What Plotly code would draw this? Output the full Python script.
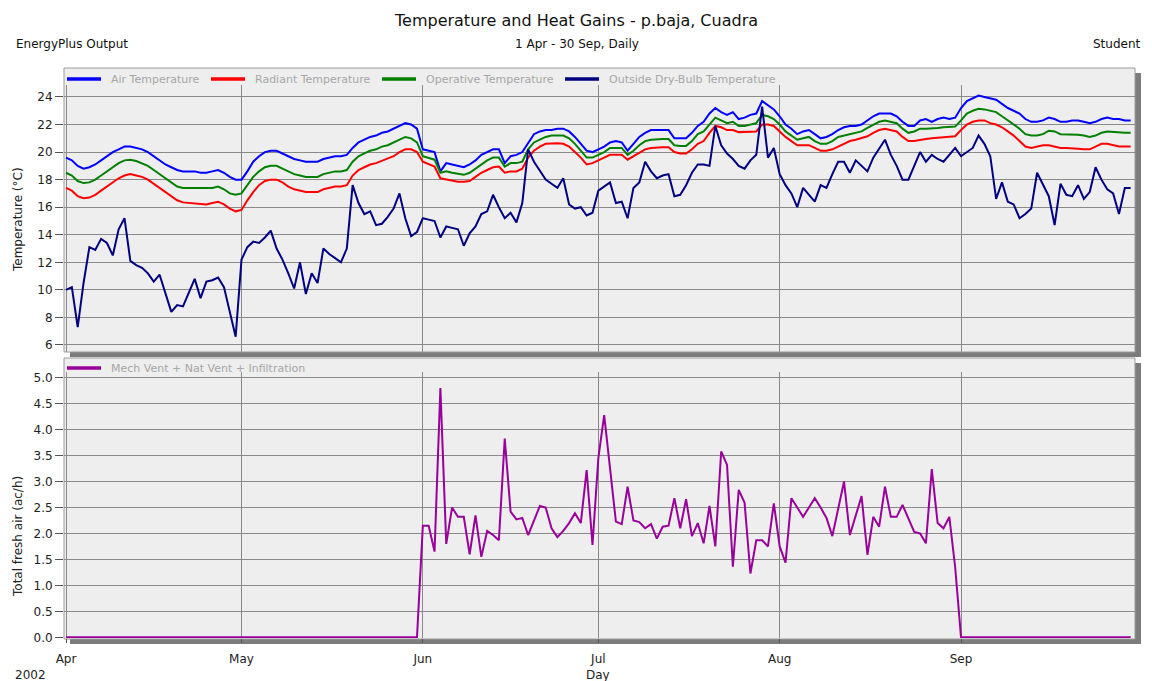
import pandas as pd
import plotly.graph_objects as go

# ---- data: daily values, 1 Apr - 30 Sep 2002 ----
start_date = "2002-04-01"
end_date = "2002-09-30"

air_temperature = [
    19.6, 19.4, 19.0, 18.8, 18.9, 19.1, 19.4, 19.7, 20.0, 20.2,
    20.4, 20.4, 20.3, 20.2, 20.0, 19.7, 19.4, 19.1, 18.9, 18.7,
    18.6, 18.6, 18.6, 18.5, 18.5, 18.6, 18.7, 18.5, 18.2, 18.0,
    18.0, 18.6, 19.3, 19.7, 20.0, 20.1, 20.1, 19.9, 19.7, 19.5,
    19.4, 19.3, 19.3, 19.3, 19.5, 19.6, 19.7, 19.7, 19.8, 20.3,
    20.7, 20.9, 21.1, 21.2, 21.4, 21.5, 21.7, 21.9, 22.1, 22.0,
    21.7, 20.2, 20.1, 20.0, 18.6, 19.2, 19.1, 19.0, 18.9, 19.1,
    19.4, 19.8, 20.0, 20.2, 20.2, 19.2, 19.7, 19.8, 20.0, 20.7,
    21.3, 21.5, 21.6, 21.6, 21.7, 21.7, 21.5, 21.1, 20.6, 20.1,
    20.0, 20.2, 20.4, 20.7, 20.8, 20.7, 20.1, 20.6, 21.1, 21.4,
    21.6, 21.6, 21.6, 21.6, 21.0, 21.0, 21.0, 21.4, 21.9, 22.2,
    22.8, 23.2, 22.9, 22.7, 22.9, 22.4, 22.5, 22.7, 22.8, 23.7,
    23.4, 23.1, 22.6, 22.0, 21.7, 21.3, 21.5, 21.6, 21.3, 21.0,
    21.1, 21.3, 21.6, 21.8, 21.9, 21.9, 22.0, 22.3, 22.6, 22.8,
    22.8, 22.8, 22.6, 22.2, 21.9, 21.9, 22.3, 22.4, 22.2, 22.4,
    22.5, 22.4, 22.5, 23.2, 23.7, 23.9, 24.1, 24.0, 23.9, 23.8,
    23.5, 23.2, 23.0, 22.8, 22.4, 22.2, 22.2, 22.3, 22.5, 22.4,
    22.2, 22.2, 22.3, 22.3, 22.2, 22.1, 22.2, 22.4, 22.5, 22.4,
    22.4, 22.3, 22.3,
]

radiant_temperature = [
    17.4, 17.2, 16.8, 16.65, 16.7, 16.9, 17.2, 17.5, 17.8, 18.1,
    18.3, 18.4, 18.3, 18.2, 18.0, 17.7, 17.4, 17.1, 16.8, 16.5,
    16.35, 16.3, 16.3, 16.25, 16.2, 16.3, 16.4, 16.2, 15.9, 15.7,
    15.8, 16.5, 17.1, 17.6, 17.9, 18.0, 18.0, 17.8, 17.5, 17.3,
    17.2, 17.1, 17.1, 17.1, 17.3, 17.4, 17.5, 17.5, 17.6, 18.3,
    18.7, 18.9, 19.1, 19.2, 19.35, 19.5, 19.7, 20.0, 20.2, 20.2,
    20.0, 19.3, 19.1, 18.95, 18.1, 18.0, 17.9, 17.85, 17.85, 17.9,
    18.2, 18.5, 18.7, 18.9, 18.95, 18.5, 18.6, 18.6, 18.8, 19.6,
    20.1, 20.4, 20.6, 20.65, 20.65, 20.6, 20.4, 20.0, 19.6, 19.1,
    19.2, 19.4, 19.6, 19.8, 19.8, 19.8, 19.45, 19.7, 20.0, 20.2,
    20.3, 20.35, 20.35, 20.35, 20.0, 19.9, 19.9, 20.2, 20.6, 20.8,
    21.4, 21.9, 21.8, 21.6, 21.6, 21.45, 21.45, 21.45, 21.5, 22.0,
    22.0, 21.9, 21.5, 21.1, 20.8, 20.5, 20.5, 20.5, 20.3, 20.1,
    20.1, 20.2, 20.4, 20.6, 20.8, 20.9, 21.0, 21.15, 21.4, 21.6,
    21.7, 21.6, 21.5, 21.1, 20.8, 20.8, 20.9, 20.95, 21.0, 21.05,
    21.1, 21.1, 21.15, 21.6, 22.0, 22.2, 22.3, 22.3, 22.1, 22.0,
    21.8, 21.5, 21.2, 20.8, 20.4, 20.3, 20.4, 20.5, 20.5, 20.4,
    20.3, 20.3, 20.3, 20.25, 20.2, 20.2, 20.4, 20.6, 20.6, 20.5,
    20.4, 20.4, 20.4,
]

operative_temperature = [
    18.5, 18.3, 17.9, 17.75, 17.8, 18.0, 18.3, 18.6, 18.9, 19.2,
    19.4, 19.45, 19.35, 19.2, 19.0, 18.7, 18.4, 18.1, 17.8, 17.5,
    17.4, 17.4, 17.4, 17.4, 17.4, 17.4, 17.5, 17.3, 17.0, 16.9,
    17.0, 17.6, 18.2, 18.6, 18.9, 19.0, 19.0, 18.8, 18.6, 18.4,
    18.3, 18.2, 18.2, 18.2, 18.4, 18.5, 18.6, 18.6, 18.7, 19.3,
    19.7, 19.9, 20.1, 20.2, 20.4, 20.5, 20.7, 20.9, 21.1, 21.0,
    20.7, 19.7, 19.6, 19.45, 18.5, 18.6, 18.5, 18.4, 18.35, 18.5,
    18.8, 19.1, 19.4, 19.6, 19.6, 18.95, 19.2, 19.2, 19.3, 20.2,
    20.7, 20.9, 21.1, 21.2, 21.2, 21.2, 21.0, 20.6, 20.1, 19.6,
    19.6, 19.8, 20.0, 20.3, 20.3, 20.3, 19.8, 20.1, 20.5, 20.8,
    20.9, 20.95, 20.95, 20.95, 20.5, 20.45, 20.45, 20.8, 21.3, 21.5,
    22.0, 22.5, 22.3, 22.1, 22.2, 21.9, 21.9, 22.0, 22.1, 22.7,
    22.6, 22.4, 22.0, 21.5, 21.2, 20.9, 21.0, 21.1, 20.8, 20.6,
    20.6, 20.8, 21.1, 21.2, 21.3, 21.4, 21.5, 21.75, 22.0, 22.2,
    22.3, 22.2, 22.1, 21.7, 21.4, 21.5, 21.7, 21.7, 21.7, 21.75,
    21.8, 21.8, 21.85, 22.3, 22.8, 23.0, 23.15, 23.1, 23.0, 22.9,
    22.6, 22.3, 22.0, 21.7, 21.3, 21.2, 21.2, 21.3, 21.55, 21.5,
    21.3, 21.3, 21.3, 21.25, 21.2, 21.1, 21.2, 21.4, 21.5, 21.45,
    21.4, 21.4, 21.4,
]

outside_drybulb = [
    10.0, 10.2, 7.3, 10.5, 13.1, 12.9, 13.7, 13.4, 12.5, 14.4,
    15.2, 12.1, 11.8, 11.6, 11.2, 10.6, 11.1, 9.7, 8.4, 8.9,
    8.8, 9.8, 10.8, 9.4, 10.6, 10.7, 10.9, 10.2, 8.5, 6.6,
    12.2, 13.1, 13.5, 13.4, 13.8, 14.3, 13.0, 12.2, 11.2, 10.1,
    12.0, 9.7, 11.2, 10.5, 13.0, 12.6, 12.3, 12.0, 13.0, 17.6,
    16.3, 15.5, 15.7, 14.7, 14.8, 15.3, 15.9, 17.0, 15.2, 13.9,
    14.2, 15.2, 15.1, 15.0, 13.8, 14.6, 14.5, 14.4, 13.2, 14.1,
    14.6, 15.5, 15.7, 16.9, 16.0, 15.2, 15.6, 14.9, 16.3, 20.2,
    19.3, 18.6, 18.0, 17.7, 17.4, 18.1, 16.2, 15.9, 16.0, 15.4,
    15.6, 17.2, 17.5, 17.8, 16.3, 16.4, 15.2, 17.4, 17.8, 19.3,
    18.6, 18.1, 18.3, 18.4, 16.8, 16.9, 17.6, 18.5, 19.1, 19.1,
    19.0, 21.9, 20.5, 19.9, 19.5, 19.0, 18.8, 19.4, 19.8, 23.3,
    19.6, 20.3, 18.4, 17.6, 17.0, 16.0, 17.4, 16.9, 16.4, 17.6,
    17.4, 18.4, 19.3, 19.3, 18.5, 19.4, 19.0, 18.6, 19.6, 20.3,
    20.9, 19.8, 19.0, 18.0, 18.0, 19.0, 20.0, 19.3, 19.8, 19.5,
    19.3, 19.8, 20.3, 19.7, 20.0, 20.3, 21.2, 20.6, 19.7, 16.6,
    17.8, 16.4, 16.2, 15.2, 15.5, 15.9, 18.5, 17.6, 16.8, 14.7,
    17.7, 16.9, 16.8, 17.6, 16.6, 17.1, 18.9, 18.0, 17.3, 17.0,
    15.5, 17.4, 17.4,
]

fresh_air_ach = [
    0.0, 0.0, 0.0, 0.0, 0.0, 0.0, 0.0, 0.0, 0.0, 0.0,
    0.0, 0.0, 0.0, 0.0, 0.0, 0.0, 0.0, 0.0, 0.0, 0.0,
    0.0, 0.0, 0.0, 0.0, 0.0, 0.0, 0.0, 0.0, 0.0, 0.0,
    0.0, 0.0, 0.0, 0.0, 0.0, 0.0, 0.0, 0.0, 0.0, 0.0,
    0.0, 0.0, 0.0, 0.0, 0.0, 0.0, 0.0, 0.0, 0.0, 0.0,
    0.0, 0.0, 0.0, 0.0, 0.0, 0.0, 0.0, 0.0, 0.0, 0.0,
    0.0, 2.15, 2.15, 1.65, 4.8, 1.8, 2.5, 2.32, 2.32, 1.6,
    2.35, 1.55, 2.05, 1.97, 1.87, 3.83, 2.42, 2.27, 2.3, 1.97,
    2.25, 2.53, 2.5, 2.1, 1.93, 2.05, 2.2, 2.39, 2.2, 3.22,
    1.78, 3.45, 4.28, 3.3, 2.23, 2.18, 2.9, 2.25, 2.22, 2.1,
    2.18, 1.9, 2.13, 2.15, 2.68, 2.1, 2.66, 1.95, 2.2, 1.81,
    2.53, 1.75, 3.58, 3.32, 1.36, 2.84, 2.59, 1.23, 1.87, 1.87,
    1.75, 2.58, 1.75, 1.44, 2.68, 2.5, 2.32, 2.5, 2.68, 2.5,
    2.3, 1.95, 2.45, 3.0, 1.97, 2.35, 2.72, 1.59, 2.32, 2.13,
    2.9, 2.32, 2.32, 2.55, 2.3, 2.03, 2.0, 1.81, 3.24, 2.2,
    2.1, 2.32, 1.35, 0.0, 0.0, 0.0, 0.0, 0.0, 0.0, 0.0,
    0.0, 0.0, 0.0, 0.0, 0.0, 0.0, 0.0, 0.0, 0.0, 0.0,
    0.0, 0.0, 0.0, 0.0, 0.0, 0.0, 0.0, 0.0, 0.0, 0.0,
    0.0, 0.0, 0.0,
]

month_starts = ["2002-04-01", "2002-05-01", "2002-06-01", "2002-07-01",
                "2002-08-01", "2002-09-01"]
month_labels = ["Apr", "May", "Jun", "Jul", "Aug", "Sep"]
temp_ticks = [6, 8, 10, 12, 14, 16, 18, 20, 22, 24]
air_ticks = [0.0, 0.5, 1.0, 1.5, 2.0, 2.5, 3.0, 3.5, 4.0, 4.5, 5.0]

days = pd.date_range(start_date, end_date, freq="D")

# ---- page geometry (pixels) ----
W, H = 1152, 681


def fx(px):
    return px / W


def fy(py):
    return 1 - py / H


FONT = "DejaVu Sans, Verdana, sans-serif"
GRID = "#8a8a8a"
PANEL_BG = "#eeeeee"
SHADOW = "#7c7c7c"
FRAME = "#9c9c9c"
LEGEND_TEXT = "#a6a6a6"

fig = go.Figure()

temp_series = [
    ("Air Temperature", air_temperature, "#0000ff"),
    ("Radiant Temperature", radiant_temperature, "#ff0000"),
    ("Operative Temperature", operative_temperature, "#008000"),
    ("Outside Dry-Bulb Temperature", outside_drybulb, "#000080"),
]
vent_series = [
    ("Mech Vent + Nat Vent + Infiltration", fresh_air_ach, "#990099"),
]

for name, vals, color in temp_series:
    fig.add_trace(go.Scatter(
        x=days, y=vals, name=name, mode="lines",
        line=dict(color=color, width=2),
        xaxis="x", yaxis="y", showlegend=False,
    ))
for name, vals, color in vent_series:
    fig.add_trace(go.Scatter(
        x=days, y=vals, name=name, mode="lines",
        line=dict(color=color, width=2),
        xaxis="x2", yaxis="y2", showlegend=False,
    ))

# panel frames with drop shadows
panels = [(64, 68, 1135, 352), (64, 358, 1135, 639)]
shapes = []
for x0, y0, x1, y1 in panels:
    shapes.append(dict(type="rect", xref="paper", yref="paper", layer="below",
                       x0=fx(x0 + 6), x1=fx(x1 + 6), y0=fy(y0 + 5), y1=fy(y1 + 5),
                       fillcolor=SHADOW, line=dict(width=0)))
    shapes.append(dict(type="rect", xref="paper", yref="paper", layer="below",
                       x0=fx(x0), x1=fx(x1), y0=fy(y0), y1=fy(y1),
                       fillcolor=PANEL_BG, line=dict(color=FRAME, width=1)))

annotations = []

# legend strips along the top of each panel: a line sample and its label
legend_rows = [
    (79, temp_series, [67, 211, 382, 565]),
    (368, vent_series, [67]),
]
for row_y, series, starts in legend_rows:
    for (name, _vals, color), sx in zip(series, starts):
        shapes.append(dict(type="line", xref="paper", yref="paper",
                           x0=fx(sx), x1=fx(sx + 34), y0=fy(row_y), y1=fy(row_y),
                           line=dict(color=color, width=3.5)))
        annotations.append(dict(text=name, x=fx(sx + 42), y=fy(row_y),
                                xanchor="left",
                                font=dict(family=FONT, size=11, color=LEGEND_TEXT)))

x_range = ["2002-03-31 15:47", "2002-09-30 17:45"]
x_common = dict(
    range=x_range, domain=[fx(64), fx(1135)], automargin=False,
    tickmode="array", tickvals=month_starts, ticktext=month_labels,
    showgrid=True, gridcolor=GRID, gridwidth=1,
    zeroline=False, showline=False,
    tickfont=dict(family=FONT, size=12, color="#222222"),
)
y_common = dict(
    automargin=False,
    showgrid=True, gridcolor=GRID, gridwidth=1, zeroline=False,
    showline=False, ticks="outside", ticklen=8, tickcolor="#555555",
    tickfont=dict(family=FONT, size=12, color="#222222"),
)

annotations += [
    dict(text="Temperature and Heat Gains - p.baja, Cuadra", x=fx(576), y=fy(20),
         font=dict(family=FONT, size=16, color="#111111")),
    dict(text="EnergyPlus Output", x=fx(14), y=fy(44), xanchor="left",
         font=dict(family=FONT, size=12, color="#111111")),
    dict(text="1 Apr - 30 Sep, Daily", x=fx(577), y=fy(44),
         font=dict(family=FONT, size=12, color="#111111")),
    dict(text="Student", x=fx(1143), y=fy(44), xanchor="right",
         font=dict(family=FONT, size=12, color="#111111")),
    dict(text="Temperature (°C)", x=fx(18), y=fy(220), textangle=-90,
         font=dict(family=FONT, size=12, color="#222222")),
    dict(text="Total fresh air (ac/h)", x=fx(18), y=fy(537), textangle=-90,
         font=dict(family=FONT, size=12, color="#222222")),
    dict(text="2002", x=fx(30), y=fy(675),
         font=dict(family=FONT, size=12, color="#222222")),
    dict(text="Day", x=fx(598), y=fy(675),
         font=dict(family=FONT, size=12, color="#222222")),
]
for a in annotations:
    a.update(xref="paper", yref="paper", showarrow=False)
    a.setdefault("xanchor", "center")
    a.setdefault("yanchor", "middle")

fig.update_layout(
    width=W, height=H,
    margin=dict(l=0, r=0, t=0, b=0, pad=0, autoexpand=False),
    paper_bgcolor="white", plot_bgcolor="rgba(0,0,0,0)",
    showlegend=False,
    xaxis=dict(**x_common, anchor="y", showticklabels=False, ticks=""),
    xaxis2=dict(**x_common, anchor="y2", matches="x", showticklabels=True,
                ticks="outside", ticklen=4, tickcolor="#555555",
                ticklabelstandoff=6),
    yaxis=dict(**y_common, domain=[fy(352), fy(85)], range=[5.49, 24.87],
               tickvals=temp_ticks),
    yaxis2=dict(**y_common, domain=[fy(638), fy(372)], range=[-0.013, 5.11],
                tickvals=air_ticks, tickformat=".1f"),
    shapes=shapes,
    annotations=annotations,
)

fig.write_html("out.html")
